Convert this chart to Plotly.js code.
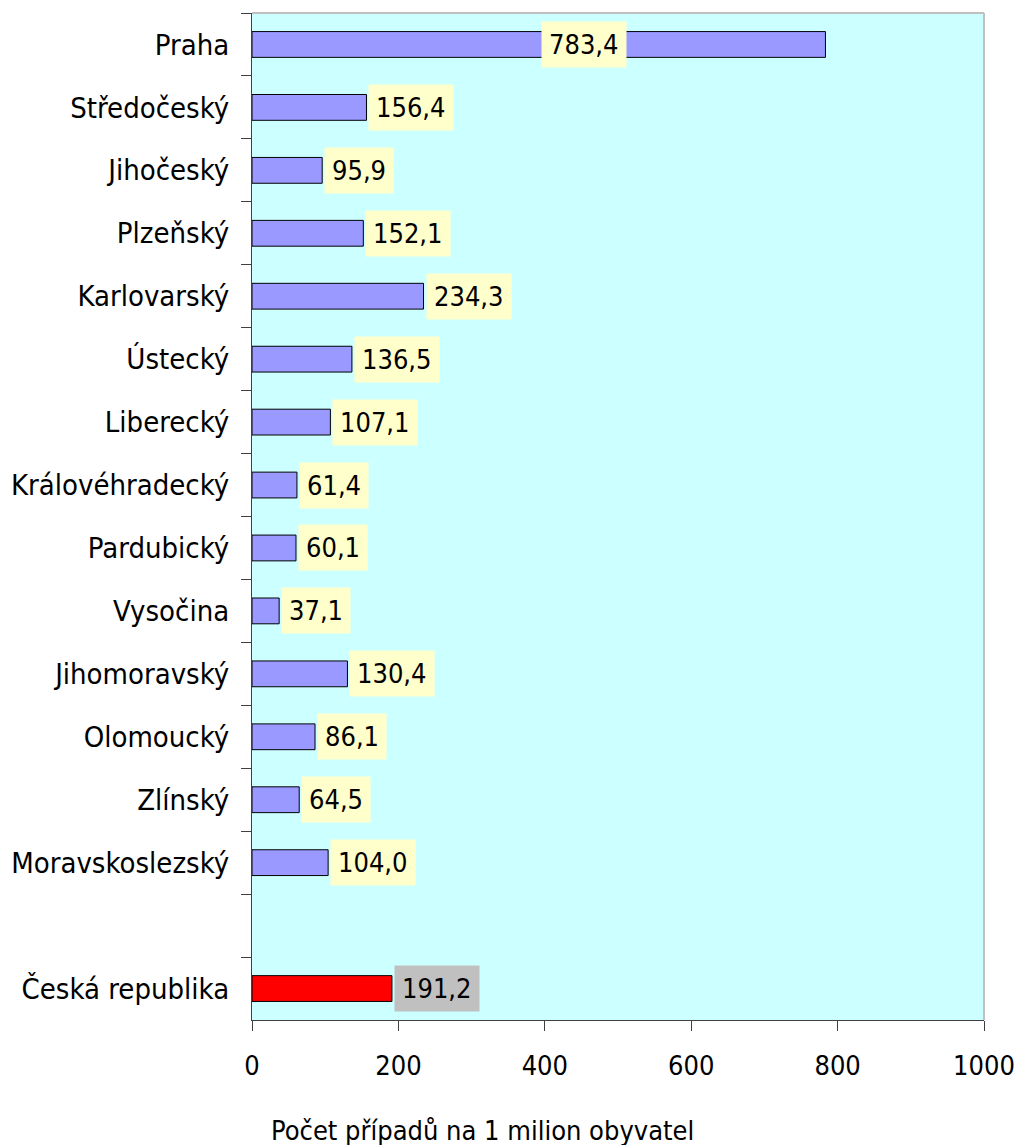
<!DOCTYPE html>
<html>
<head>
<meta charset="utf-8">
<script src="https://cdn.plot.ly/plotly-3.0.1.min.js"></script>
<style>html,body{margin:0;padding:0;background:#fff;}#chart{width:1021px;height:1145px;}</style>
</head>
<body>
<div id="chart"></div>
<script>
const regions = ["Praha","Středočeský","Jihočeský","Plzeňský","Karlovarský","Ústecký","Liberecký","Královéhradecký","Pardubický","Vysočina","Jihomoravský","Olomoucký","Zlínský","Moravskoslezský"];
const regionValues = [783.4,156.4,95.9,152.1,234.3,136.5,107.1,61.4,60.1,37.1,130.4,86.1,64.5,104.0];
const totalLabel = "Česká republika";
const totalValue = 191.2;
const spacer = " ";
const xTicks = [0,200,400,600,800,1000];
const xTitle = "Počet případů na 1 milion obyvatel";

const fontFam = "Tahoma, 'DejaVu Sans Condensed', 'DejaVu Sans', sans-serif";
const fmt = v => v.toFixed(1).replace('.', ',');
const cats = regions.concat([spacer, totalLabel]);
const xMax = 1000;

const traces = [
  {type:'bar', orientation:'h', y: regions, x: regionValues,
   marker:{color:'#9999FF', line:{color:'#000000', width:1}}, hoverinfo:'x+y'},
  {type:'bar', orientation:'h', y: [totalLabel], x: [totalValue],
   marker:{color:'#FF0000', line:{color:'#000000', width:1}}, hoverinfo:'x+y'}
];

// labels: outside the bar end; if it would run past the axis end, it starts at the bar's middle
const labelPos = v => (v > 0.7 * xMax ? v / 2 : v);
const annotations = regions.map((r,i)=>({
  x: labelPos(regionValues[i]), y: r, xref:'x', yref:'y', text: fmt(regionValues[i]),
  showarrow:false, xanchor:'left', yanchor:'middle', xshift:2,
  bgcolor:'#FFFFCC', borderpad:7, font:{family:fontFam, size:27, color:'#000'}
}));
annotations.push({
  x: labelPos(totalValue), y: totalLabel, xref:'x', yref:'y', text: fmt(totalValue),
  showarrow:false, xanchor:'left', yanchor:'middle', xshift:2,
  bgcolor:'#C0C0C0', borderpad:7, font:{family:fontFam, size:27, color:'#000'}
});
annotations.push({
  x: 0.315, y: -(1130-1020)/1007, xref:'paper', yref:'paper', text: xTitle, showarrow:false,
  font:{family:fontFam, size:27, color:'#000'}, xanchor:'center', yanchor:'middle'
});

const layout = {
  width:1021, height:1145,
  margin:{l:252, r:37, t:13, b:125, pad:0},
  paper_bgcolor:'#FFFFFF', plot_bgcolor:'#CCFFFF',
  showlegend:false, barmode:'overlay', bargap:0.59,
  font:{family:fontFam, size:27, color:'#000'},
  xaxis:{range:[0,xMax], tickvals:xTicks, ticktext:xTicks.map(String), showgrid:false, zeroline:false,
    showline:true, linecolor:'#404040', linewidth:1, ticks:'outside', ticklen:10, tickcolor:'#404040',
    ticklabelstandoff:12, tickfont:{family:fontFam, size:27, color:'#000'}, fixedrange:true},
  yaxis:{type:'category', categoryorder:'array', categoryarray:cats, autorange:'reversed',
    showgrid:false, zeroline:false, showline:true, linecolor:'#404040', linewidth:1,
    ticks:'outside', ticklen:10, tickcolor:'#404040', tickson:'boundaries',
    ticklabelstandoff:16, tickfont:{family:fontFam, size:29, color:'#000'}, fixedrange:true},
  shapes:[
    {type:'line', xref:'paper', yref:'paper', x0:0, x1:1, y0:1, y1:1, line:{color:'#C0C0C0', width:2}},
    {type:'line', xref:'paper', yref:'paper', x0:1, x1:1, y0:0, y1:1, line:{color:'#C0C0C0', width:2}}
  ],
  annotations: annotations
};

Plotly.newPlot('chart', traces, layout, {staticPlot:true, displayModeBar:false});
</script>
</body>
</html>
